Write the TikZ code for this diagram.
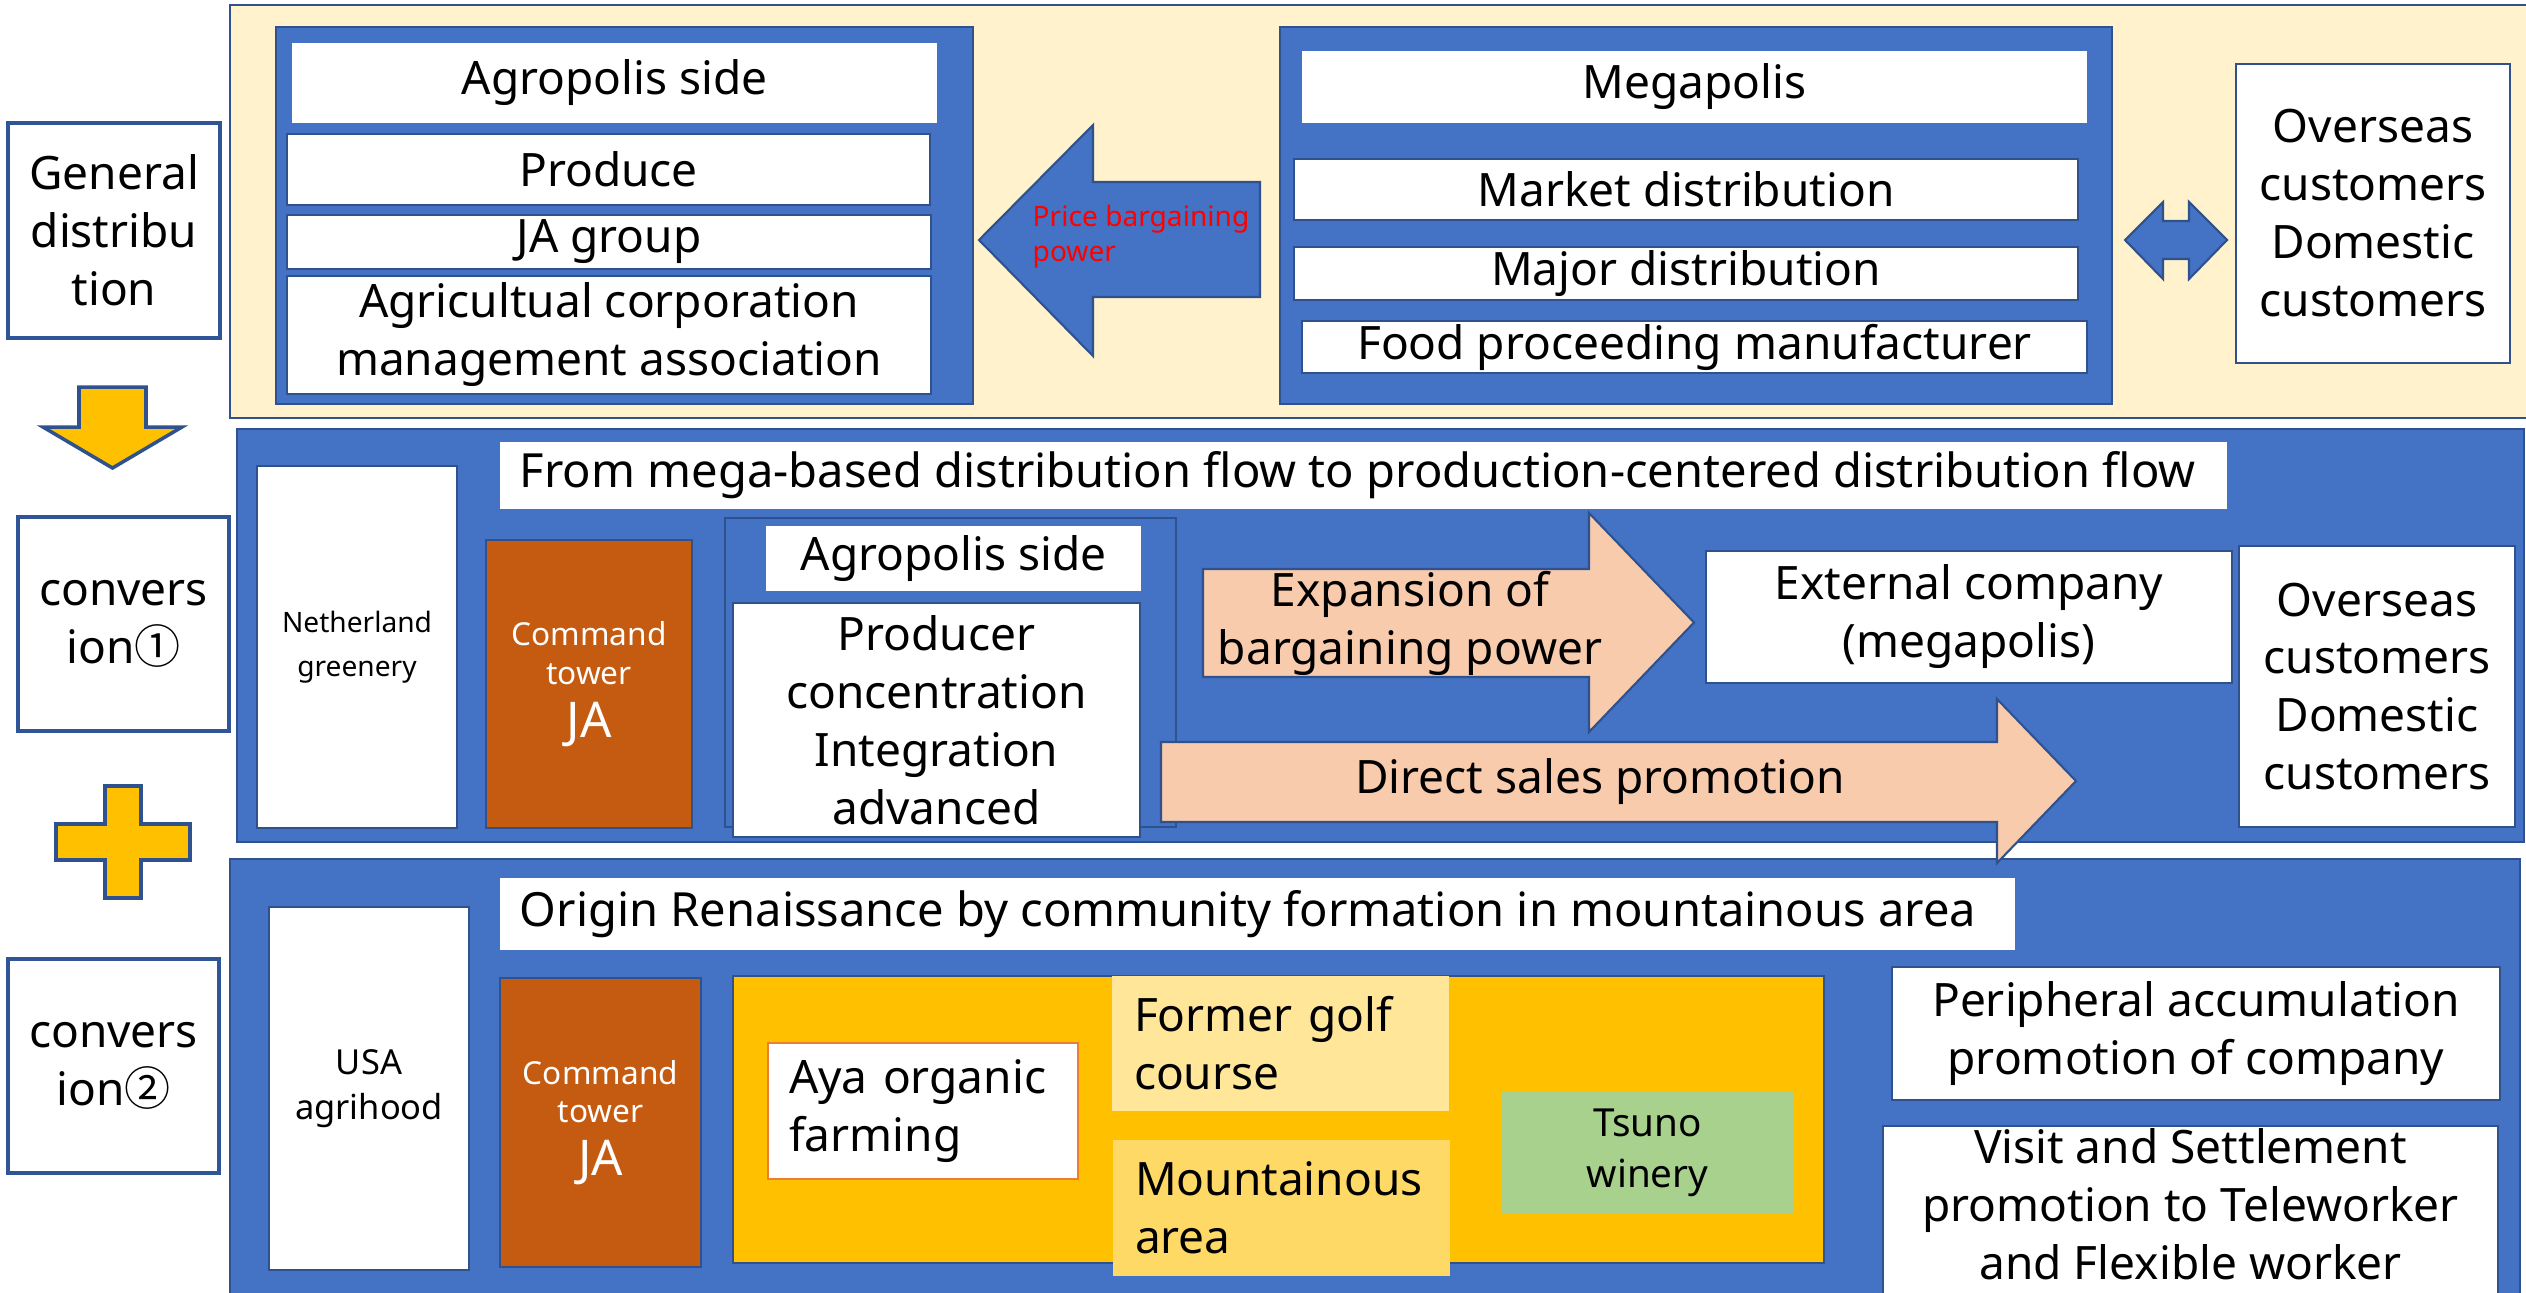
\documentclass[tikz,border=0pt]{standalone}
\usepackage{fontspec}
\setmainfont{Noto Sans}
\newfontfamily\cjkdigits{Noto Sans CJK JP}
\usepackage{xcolor}
\definecolor{panelblue}{RGB}{68,114,196}
\definecolor{edgeblue}{RGB}{47,82,143}
\definecolor{stageblue}{RGB}{47,85,151}
\definecolor{creambg}{RGB}{255,242,204}
\definecolor{towerorange}{RGB}{197,90,17}
\definecolor{gold}{RGB}{255,192,0}
\definecolor{palegold}{RGB}{255,230,153}
\definecolor{sandgold}{RGB}{255,217,102}
\definecolor{salmon}{RGB}{248,203,173}
\definecolor{winegreen}{RGB}{169,209,142}
\definecolor{ayaorange}{RGB}{237,125,49}

\begin{document}
\begin{tikzpicture}
    \tikzstyle{backdrop} = [rectangle, draw=edgeblue, line width=0.8pt, fill=creambg, inner sep=0pt]
    \tikzstyle{panel} = [rectangle, draw=edgeblue, line width=0.8pt, fill=panelblue, inner sep=0pt]
    \tikzstyle{plate} = [rectangle, draw=edgeblue, line width=0.5pt, fill=white, inner sep=0pt, align=center, font=\fontsize{13.1}{16.5}\selectfont]
    \tikzstyle{heading} = [plate, draw=none]
    \tikzstyle{stage} = [plate, draw=stageblue, line width=0.9pt]
    \tikzstyle{tower} = [rectangle, draw=edgeblue, line width=0.5pt, fill=towerorange, inner sep=0pt, align=center, text=white, font=\fontsize{9}{11}\selectfont]
    \tikzstyle{patch} = [rectangle, inner sep=0pt, align=left, font=\fontsize{13.1}{16.5}\selectfont]
    \tikzstyle{blockarrow} = [draw=edgeblue, line width=0.6pt]
    \tikzstyle{sign} = [draw=edgeblue, line width=1pt, fill=gold]
    \tikzstyle{caption} = [inner sep=0pt, align=center, font=\fontsize{13.1}{16.5}\selectfont]
    \tikzstyle{bannertext} = [inner sep=0pt, anchor=west, font=\fontsize{13.4}{16.5}\selectfont]

    \useasboundingbox (0,0) rectangle (25.26,-12.92);

    % Stage labels
    \node [stage, minimum width=2.12cm, minimum height=2.15cm] (general) at (1.14,-2.305) {General\\distribu\\tion};
    \node [stage, minimum width=2.11cm, minimum height=2.14cm] (convone) at (1.235,-6.24) {convers\\ion{\cjkdigits ①}};
    \node [stage, minimum width=2.11cm, minimum height=2.14cm] (convtwo) at (1.135,-10.66) {convers\\ion{\cjkdigits ②}};

    \filldraw [sign] (0.79,-3.87) -- (1.46,-3.87) -- (1.46,-4.27) -- (1.82,-4.27) -- (1.125,-4.68) -- (0.43,-4.27) -- (0.79,-4.27) -- cycle;
    \filldraw [sign] (1.05,-7.86) -- (1.41,-7.86) -- (1.41,-8.24) -- (1.90,-8.24) -- (1.90,-8.60) -- (1.41,-8.60) -- (1.41,-8.98) -- (1.05,-8.98) -- (1.05,-8.60) -- (0.56,-8.60) -- (0.56,-8.24) -- (1.05,-8.24) -- cycle;

    % General distribution
    \node [backdrop, minimum width=23.2cm, minimum height=4.13cm] (cream) at (13.90,-2.115) {};
    \node [panel, minimum width=6.97cm, minimum height=3.77cm] (agrotop) at (6.245,-2.155) {};
    \node [heading, minimum width=6.45cm, minimum height=0.80cm] (agroside) at (6.145,-0.83) {Agropolis side};
    \node [plate, minimum width=6.43cm, minimum height=0.71cm] (produce) at (6.085,-1.695) {Produce};
    \node [plate, minimum width=6.44cm, minimum height=0.54cm] (jagroup) at (6.09,-2.42) {JA group};
    \node [plate, minimum width=6.44cm, minimum height=1.18cm] (corpassoc) at (6.09,-3.35) {Agricultual corporation\\management association};

    \node [panel, minimum width=8.32cm, minimum height=3.77cm] (megatop) at (16.96,-2.155) {};
    \node [heading, minimum width=7.85cm, minimum height=0.72cm] (megapolis) at (16.945,-0.87) {Megapolis};
    \node [plate, minimum width=7.84cm, minimum height=0.61cm] (market) at (16.86,-1.895) {Market distribution};
    \node [plate, minimum width=7.84cm, minimum height=0.53cm] (major) at (16.86,-2.735) {Major distribution};
    \node [plate, minimum width=7.85cm, minimum height=0.52cm] (foodmaker) at (16.945,-3.47) {Food proceeding manufacturer};

    \node [plate, minimum width=2.74cm, minimum height=2.99cm] (overseastop) at (23.73,-2.135) {Overseas\\customers\\Domestic\\customers};

    \filldraw [blockarrow, fill=panelblue] (12.60,-1.82) -- (10.93,-1.82) -- (10.93,-1.25) -- (9.79,-2.40) -- (10.93,-3.56) -- (10.93,-2.97) -- (12.60,-2.97) -- cycle;
    \node [inner sep=0pt, anchor=west, align=left, text=red, font=\fontsize{8}{10}\selectfont] (pricepower) at (10.32,-2.37) {Price bargaining\\power};
    \filldraw [blockarrow, fill=panelblue] (21.25,-2.40) -- (21.63,-2.02) -- (21.63,-2.21) -- (21.89,-2.21) -- (21.89,-2.02) -- (22.27,-2.40) -- (21.89,-2.79) -- (21.89,-2.59) -- (21.63,-2.59) -- (21.63,-2.79) -- cycle;

    % Conversion 1
    \node [panel, minimum width=22.87cm, minimum height=4.13cm] (midpanel) at (13.805,-6.355) {};
    \node [heading, minimum width=17.27cm, minimum height=0.67cm] (midtitle) at (13.635,-4.755) {};
    \node [bannertext] (midtitletext) at ([xshift=0.2cm]midtitle.west) {From mega-based distribution flow to production-centered distribution flow};
    \node [plate, minimum width=2.00cm, minimum height=3.62cm, font=\fontsize{8}{12.5}\selectfont] (netherland) at (3.57,-6.47) {Netherland\\greenery};
    \node [tower, minimum width=2.06cm, minimum height=2.88cm] (towerone) at (5.89,-6.84) {Command\\tower\\[4pt]{\fontsize{14}{16}\selectfont JA}};
    \node [panel, line width=0.6pt, minimum width=4.51cm, minimum height=3.09cm] (agroframe) at (9.505,-6.725) {};
    \node [heading, minimum width=3.75cm, minimum height=0.65cm] (agrosidemid) at (9.535,-5.585) {Agropolis side};
    \node [plate, minimum width=4.07cm, minimum height=2.34cm] (producer) at (9.365,-7.20) {Producer\\concentration\\Integration\\advanced};
    \node [plate, minimum width=5.26cm, minimum height=1.32cm] (external) at (19.69,-6.17) {External company\\(megapolis)};
    \node [plate, minimum width=2.76cm, minimum height=2.81cm] (overseasmid) at (23.77,-6.865) {Overseas\\customers\\Domestic\\customers};

    % Conversion 2
    \node [panel, minimum width=22.9cm, minimum height=4.46cm] (botpanel) at (13.75,-10.82) {};
    \node [heading, minimum width=15.15cm, minimum height=0.72cm] (bottitle) at (12.575,-9.14) {};
    \node [bannertext] (bottitletext) at ([xshift=0.2cm]bottitle.west) {Origin Renaissance by community formation in mountainous area};
    \node [plate, minimum width=2.00cm, minimum height=3.63cm, font=\fontsize{9.8}{13}\selectfont] (usa) at (3.69,-10.885) {USA\\agrihood};
    \node [tower, minimum width=2.01cm, minimum height=2.89cm] (towertwo) at (6.005,-11.225) {Command\\tower\\[4pt]{\fontsize{14}{16}\selectfont JA}};
    \node [rectangle, fill=gold, draw=edgeblue, line width=0.4pt, minimum width=10.91cm, minimum height=2.87cm] (goldarea) at (12.785,-11.195) {};
    \node [patch, fill=white, draw=ayaorange, line width=0.8pt, minimum width=3.10cm, minimum height=1.36cm, text width=2.68cm, inner xsep=0.21cm] (aya) at (9.23,-11.11) {Aya organic\\farming};
    \node [patch, fill=palegold, minimum width=3.37cm, minimum height=1.35cm, text width=2.93cm, inner xsep=0.22cm] (golf) at (12.805,-10.435) {Former golf\\course};
    \node [patch, fill=sandgold, minimum width=3.37cm, minimum height=1.36cm, text width=2.93cm, inner xsep=0.22cm] (mountain) at (12.815,-12.08) {Mountainous\\area};
    \node [rectangle, fill=winegreen, inner sep=0pt, align=center, font=\fontsize{11}{14.5}\selectfont, minimum width=2.93cm, minimum height=1.21cm] (tsuno) at (16.475,-11.525) {Tsuno\\winery};
    \node [plate, minimum width=6.08cm, minimum height=1.33cm] (peripheral) at (21.96,-10.335) {Peripheral accumulation\\promotion of company};
    \node [plate, minimum width=6.15cm, minimum height=1.72cm] (visit) at (21.905,-12.12) {};
    \node [caption] (visittext) at ([yshift=0.08cm]visit.center) {Visit and Settlement\\promotion to Teleworker\\and Flexible worker};

    % Flow arrows
    \filldraw [blockarrow, fill=salmon] (12.03,-5.69) -- (15.89,-5.69) -- (15.89,-5.13) -- (16.94,-6.225) -- (15.89,-7.32) -- (15.89,-6.77) -- (12.03,-6.77) -- cycle;
    \node [caption] (expansion) at (14.10,-6.23) {Expansion of\\bargaining power};
    \filldraw [blockarrow, fill=salmon] (11.61,-7.42) -- (19.97,-7.42) -- (19.97,-6.99) -- (20.76,-7.81) -- (19.97,-8.63) -- (19.97,-8.22) -- (11.61,-8.22) -- cycle;
    \node [caption] (directsales) at (16.0,-7.82) {Direct sales promotion};
\end{tikzpicture}
\end{document}
